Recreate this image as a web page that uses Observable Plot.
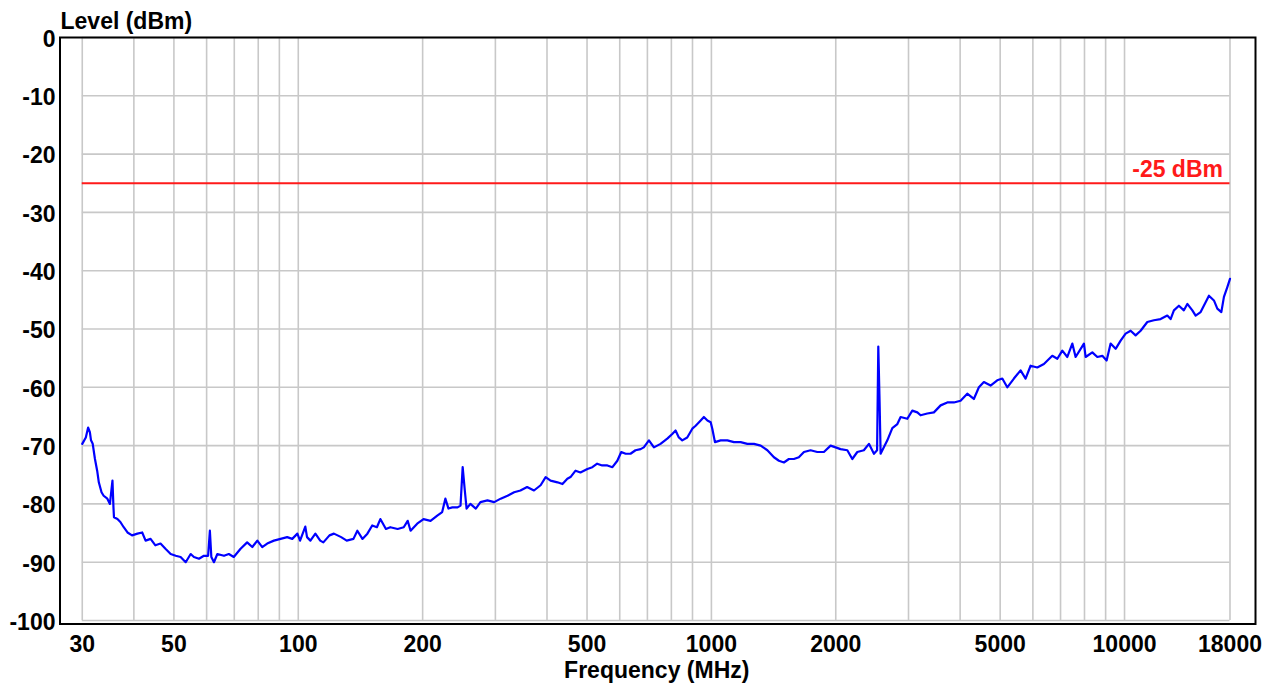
<!DOCTYPE html>
<html>
<head>
<meta charset="utf-8">
<script src="https://cdn.jsdelivr.net/npm/d3@7"></script>
<script src="https://cdn.jsdelivr.net/npm/@observablehq/plot@0.6"></script>
<style>
  html, body { margin: 0; padding: 0; background: #ffffff; }
  #chart svg { display: block; }
</style>
</head>
<body>
<div id="chart"></div>
<script>
// ---- Data ----
const freqMHz = [
  30, 30.6, 31.0, 31.3, 31.5, 31.8, 32.2, 32.6, 32.9, 33.4,
  33.8, 34.5, 35.0, 35.5, 35.7, 35.8, 36.5, 37.1, 37.8, 38.6,
  39.6, 40.8, 41.9, 42.7, 43.9, 45.1, 46.4, 47.7, 49.1, 50.5,
  51.9, 53.4, 54.9, 55.9, 57.5, 59.1, 60.5, 61.1, 61.6, 62.5,
  63.7, 66.1, 67.9, 69.8, 72.5, 75.2, 77.4, 79.6, 81.8, 84.1,
  87.3, 90.6, 94.0, 96.7, 99.5, 101, 104, 105, 107, 110,
  113, 115, 119, 122, 127, 131, 136, 139, 143, 147,
  151, 155, 158, 163, 167, 174, 180, 184, 187, 194,
  201, 209, 217, 223, 227, 231, 236, 243, 247, 250,
  253, 255.5, 261, 269, 276, 287, 298, 309, 321, 333,
  345, 358, 372, 386, 397, 408, 424, 436, 448, 456,
  469, 482, 501, 515, 529, 544, 560, 576, 592, 605,
  620, 637, 655, 674, 686, 706, 726, 753, 782, 804,
  819, 834, 850, 874, 899, 916, 942, 959, 978, 996,
  1005, 1020, 1053, 1093, 1134, 1177, 1222, 1268, 1316, 1366,
  1417, 1457, 1498, 1540, 1584, 1628, 1675, 1738, 1804, 1872,
  1943, 1998, 2054, 2133, 2193, 2255, 2339, 2406, 2474, 2518,
  2535, 2553, 2568, 2593, 2666, 2741, 2819, 2871, 2980, 3064,
  3151, 3209, 3331, 3456, 3588, 3724, 3863, 4010, 4162, 4318,
  4441, 4566, 4739, 4919, 5060, 5202, 5398, 5603, 5761, 5924,
  6149, 6381, 6685, 6876, 7070, 7270, 7475, 7614, 7975, 8051,
  8357, 8593, 8835, 9050, 9254, 9516, 9785, 10061, 10345, 10637,
  10938, 11353, 11779, 12227, 12692, 12928, 13168, 13540, 13922, 14192,
  14593, 14864, 15284, 15715, 16007, 16459, 16773, 17152, 17403, 17735,
  18000
];
const levelDbm = [
  -69.7, -68.6, -66.9, -67.7, -69.1, -69.7, -72.3, -74.3, -76.3, -78.0,
  -78.6, -79.1, -80.0, -76.0, -80.6, -82.3, -82.6, -83.1, -84.0, -84.9,
  -85.4, -85.1, -84.9, -86.3, -86.0, -87.1, -86.8, -87.7, -88.6, -88.9,
  -89.1, -90.0, -88.6, -89.1, -89.4, -88.9, -88.9, -84.6, -89.1, -90.0,
  -88.6, -88.9, -88.6, -89.1, -87.7, -86.6, -87.4, -86.3, -87.4, -86.8,
  -86.3, -86.0, -85.7, -86.0, -85.1, -86.3, -83.9, -85.7, -86.3, -85.1,
  -86.3, -86.6, -85.4, -85.1, -85.7, -86.3, -86.0, -84.6, -86.0, -85.1,
  -83.7, -84.0, -82.6, -84.3, -84.0, -84.3, -84.0, -82.9, -84.6, -83.4,
  -82.6, -82.9, -82.0, -81.4, -79.1, -80.8, -80.6, -80.6, -80.3, -73.7,
  -77.7, -80.8, -80.0, -80.8, -79.7, -79.4, -79.7, -79.1, -78.6, -78.0,
  -77.7, -77.1, -77.7, -76.8, -75.4, -76.0, -76.3, -76.6, -75.7, -75.4,
  -74.3, -74.6, -74.0, -73.7, -73.1, -73.4, -73.4, -73.7, -72.6, -71.1,
  -71.4, -71.4, -70.8, -70.6, -70.3, -69.1, -70.3, -69.7, -68.8, -68.0,
  -67.4, -68.6, -69.1, -68.6, -67.1, -66.6, -65.7, -65.1, -65.7, -66.0,
  -67.1, -69.4, -69.1, -69.1, -69.4, -69.4, -69.7, -69.7, -70.0, -70.8,
  -72.0, -72.6, -72.9, -72.3, -72.3, -72.0, -71.1, -70.8, -71.1, -71.1,
  -70.0, -70.3, -70.6, -70.8, -72.3, -71.1, -70.8, -69.7, -71.4, -70.8,
  -53.0, -62.3, -71.4, -70.8, -69.1, -67.0, -66.3, -65.1, -65.4, -64.0,
  -64.3, -64.8, -64.5, -64.3, -63.1, -62.6, -62.6, -62.3, -61.1, -62.0,
  -60.0, -59.1, -59.7, -58.8, -58.5, -60.0, -58.5, -57.1, -58.5, -56.3,
  -56.6, -56.0, -54.6, -55.1, -53.7, -54.8, -52.5, -54.8, -52.5, -54.8,
  -54.0, -54.8, -54.6, -55.4, -52.5, -53.4, -52.0, -50.8, -50.3, -51.1,
  -50.3, -48.8, -48.5, -48.3, -47.7, -48.3, -46.8, -46.0, -46.8, -45.7,
  -46.8, -47.7, -47.1, -45.4, -44.3, -45.1, -46.5, -47.1, -44.5, -42.8,
  -41.4
];
const xTickLabels = [30, 50, 100, 200, 500, 1000, 2000, 5000, 10000, 18000];
const xGridLines = [30, 40, 50, 60, 70, 80, 90, 100, 200, 300, 400, 500, 600, 700, 800, 900,
                    1000, 2000, 3000, 4000, 5000, 6000, 7000, 8000, 9000, 10000, 18000];
const yTickLabels = [0, -10, -20, -30, -40, -50, -60, -70, -80, -90, -100];
const limitDbm = [-25];
const limitLabel = ["-25 dBm"];
const xTitle = "Frequency (MHz)";
const yTitle = "Level (dBm)";

// ---- Build ----
const trace = freqMHz.map((f, i) => ({ f, level: levelDbm[i] }));
const xMin = xGridLines[0], xMax = xGridLines[xGridLines.length - 1];
const yTop = yTickLabels[0], yBottom = yTickLabels[yTickLabels.length - 1];
const FONT = "'Liberation Sans', Arial, Helvetica, sans-serif";
const FS = 23;

const chart = Plot.plot({
  width: 1285,
  height: 687,
  marginLeft: 59.5,
  marginRight: 30,
  marginTop: 37,
  marginBottom: 63.5,
  style: { fontFamily: FONT, background: "#ffffff", color: "#000" },
  x: { type: "log", domain: [26.5, 20750], label: null },
  y: { domain: [-100.6, 0], label: null },
  marks: [
    Plot.ruleX(xGridLines, { y1: yTop, y2: yBottom, stroke: "#c8c8c8", strokeWidth: 1.6 }),
    Plot.ruleY(yTickLabels, { x1: xMin, x2: xMax, stroke: "#c8c8c8", strokeWidth: 1.6 }),
    Plot.ruleY(limitDbm, { x1: xMin, x2: xMax, stroke: "#ff1a1a", strokeWidth: 2 }),
    Plot.text(limitDbm, {
      x: xMax, y: d => d, text: (d, i) => limitLabel[i],
      textAnchor: "end", lineAnchor: "bottom", dx: -7, dy: -6,
      fill: "#ff1a1a", fontSize: FS, fontWeight: "bold"
    }),
    Plot.line(trace, { x: "f", y: "level", stroke: "#0000ff", strokeWidth: 2.2 }),
    Plot.frame({ stroke: "#000", strokeWidth: 2 }),
    Plot.axisX(xTickLabels, {
      tickSize: 0, tickPadding: 12, tickFormat: d => String(d), label: null,
      fontSize: FS, fontWeight: "bold", fill: "#000"
    }),
    Plot.axisY(yTickLabels, {
      tickSize: 0, tickPadding: 4.5, tickFormat: d => String(d), label: null,
      fontSize: FS, fontWeight: "bold", fill: "#000", dy: 2
    }),
    Plot.text([yTitle], {
      frameAnchor: "top-left", textAnchor: "start", lineAnchor: "bottom",
      dx: 0.5, dy: -9, fontSize: FS, fontWeight: "bold", fill: "#000"
    }),
    Plot.text([xTitle], {
      frameAnchor: "bottom", textAnchor: "middle", lineAnchor: "bottom",
      dx: -1, dy: 53.5, fontSize: FS, fontWeight: "bold", fill: "#000"
    })
  ]
});
document.getElementById("chart").appendChild(chart);
</script>
</body>
</html>
